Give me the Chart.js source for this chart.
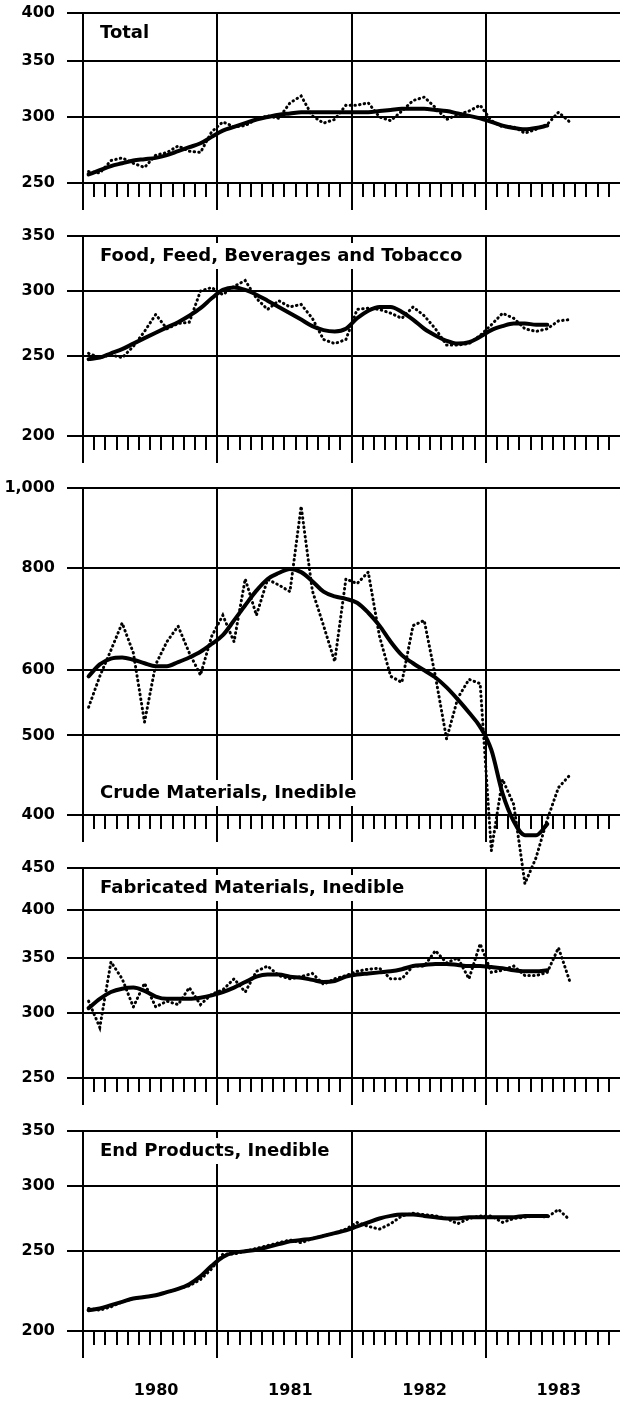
<!DOCTYPE html>
<html><head><meta charset="utf-8">
<script src="https://cdn.jsdelivr.net/npm/chart.js@4.4.0/dist/chart.umd.min.js"></script>
<style>
html,body{margin:0;padding:0;background:#fff;}
#wrap{position:relative;width:623px;height:1403px;overflow:hidden;background:#fff;}
canvas{position:absolute;left:0;}
</style></head><body><div id="wrap"></div>
<script>
// ---- data (monthly, Jan 1980 onward) ----
const yearLabels = ['1980', '1981', '1982', '1983'];
const panelTitles = ['Total', 'Food, Feed, Beverages and Tobacco', 'Crude Materials, Inedible', 'Fabricated Materials, Inedible', 'End Products, Inedible'];

const totalTicks = [250, 300, 350, 400];
const totalActual = [258,257,266,268,264,261,270,272,277,273,272,288,296,292,293,298,301,299,312,318,301,295,298,310,310,312,300,297,305,314,317,308,298,302,305,310,297,292,292,287,290,294,304,296];
const totalTrend  = [256,259,262,264,266,267,268,270,273,276,279,284,289,292,295,298,300,302,303,304,304,304,304,304,304,304,305,306,307,307,307,306,305,303,301,299,296,293,291,290,291,293];

const foodTicks = [200, 250, 300, 350];
const foodActual = [252,249,251,249,257,268,281,270,274,275,300,303,297,304,309,294,285,292,287,289,278,262,259,262,285,286,285,282,278,287,280,270,258,258,259,265,273,282,278,270,268,270,276,277];
const foodTrend  = [248,249,252,255,259,263,267,271,275,280,286,294,301,303,301,297,292,287,282,277,272,269,268,270,278,284,287,287,283,277,270,265,261,259,260,264,269,272,274,274,273,273];

const crudeTicks = [400, 500, 600, 800, 1000];
const crudeActual = [541,590,635,685,630,519,610,650,679,630,592,660,700,650,775,700,774,762,748,950,750,680,615,775,765,790,660,590,580,680,690,590,495,555,585,578,362,442,412,330,355,395,432,447];
const crudeTrend  = [590,610,620,622,618,612,607,607,614,622,632,646,662,690,720,750,775,788,797,790,770,748,738,733,725,705,680,650,626,612,600,588,572,553,533,512,480,425,393,378,378,390];

const fabTicks = [250, 300, 350, 400, 450];
const fabActual = [310,288,346,330,305,326,305,310,307,322,307,316,320,330,318,337,342,333,330,332,335,325,330,333,337,339,340,330,330,342,342,357,345,350,330,364,336,338,342,333,333,336,360,328];
const fabTrend  = [304,312,318,321,322,319,314,312,312,312,313,315,318,322,327,332,334,334,332,331,329,327,328,332,334,335,336,337,339,342,343,344,344,343,342,342,341,340,338,337,337,338];

const endTicks = [200, 250, 300, 350];
const endActual = [213,212,214,217,219,220,221,223,225,227,231,238,248,248,250,252,254,256,258,256,259,261,263,266,271,268,266,270,276,278,277,276,274,270,274,276,276,271,274,275,276,275,281,273];
const endTrend  = [212,213,215,217,219,220,221,223,225,228,233,240,246,249,250,251,253,255,257,258,259,261,263,265,268,271,274,276,277,277,276,275,274,274,275,275,275,275,275,276,276,276];

// ---- layout ----
const FONT = '"DejaVu Sans", sans-serif';
const PAD_TOP = 13;
const panels = [
  {title: panelTitles[0], ticks: totalTicks, actual: totalActual, trend: totalTrend, top: 13, h: 170, extra: 40, titleBottom: false, years: false},
  {title: panelTitles[1], ticks: foodTicks, actual: foodActual, trend: foodTrend, top: 236, h: 200, extra: 40, titleBottom: false, years: false},
  {title: panelTitles[2], ticks: crudeTicks, actual: crudeActual, trend: crudeTrend, top: 488, h: 327, extra: 100, titleBottom: true, years: false},
  {title: panelTitles[3], ticks: fabTicks, actual: fabActual, trend: fabTrend, top: 868, h: 210, extra: 40, titleBottom: false, years: false},
  {title: panelTitles[4], ticks: endTicks, actual: endActual, trend: endTrend, top: 1131, h: 200, extra: 72, titleBottom: false, years: true}
];

const decor = {
  id: 'decor',
  beforeDatasetsDraw(chart, args, opts) {
    const ctx = chart.ctx, a = chart.chartArea;
    ctx.save();
    ctx.font = 'bold 18px ' + FONT;
    const w = ctx.measureText(opts.title).width;
    const x0 = a.left + 17;
    const cy = opts.titleBottom ? a.bottom - 22 : a.top + 20;
    ctx.fillStyle = '#fff';
    ctx.fillRect(x0 - 5, cy - 13, w + 10, 26);
    ctx.fillStyle = '#000';
    ctx.textBaseline = 'middle';
    ctx.textAlign = 'left';
    ctx.fillText(opts.title, x0, cy);
    ctx.restore();
  },
  afterDraw(chart) {
    const ctx = chart.ctx, a = chart.chartArea, xs = chart.scales.x;
    ctx.save();
    ctx.strokeStyle = '#000';
    ctx.lineWidth = 2;
    for (let v = 0; v < 48; v += 12) {
      const px = Math.round(xs.getPixelForValue(v));
      ctx.beginPath();
      ctx.moveTo(px, a.bottom);
      ctx.lineTo(px, a.bottom + 27);
      ctx.stroke();
    }
    ctx.restore();
  }
};

const wrap = document.getElementById('wrap');
panels.forEach(p => {
  const H = PAD_TOP + p.h + p.extra;
  const cv = document.createElement('canvas');
  cv.width = 623; cv.height = H;
  cv.style.width = '623px'; cv.style.height = H + 'px';
  cv.style.top = (p.top - PAD_TOP) + 'px';
  wrap.appendChild(cv);
  new Chart(cv, {
    type: 'line',
    data: {
      datasets: [
        {data: p.actual.map((v, i) => ({x: i + 0.5, y: v})), borderColor: '#000', borderWidth: 3,
         borderDash: [0.5, 4.2], borderCapStyle: 'round', pointRadius: 0, tension: 0, clip: false},
        {data: p.trend.map((v, i) => ({x: i + 0.5, y: v})), borderColor: '#000', borderWidth: 4,
         pointRadius: 0, cubicInterpolationMode: 'monotone', borderCapStyle: 'round', clip: false}
      ]
    },
    options: {
      responsive: false, animation: false, devicePixelRatio: 1,
      layout: {padding: {top: PAD_TOP, right: 3, left: 0, bottom: 0}},
      plugins: {legend: {display: false}, tooltip: {enabled: false}, title: {display: false},
        decor: {title: p.title, titleBottom: p.titleBottom}},
      scales: {
        x: {
          type: 'linear', min: 0, max: 48,
          afterFit: s => { s.height = p.extra; s.paddingLeft = 0; s.paddingRight = 0; },
          border: {display: false},
          ticks: {stepSize: 1, autoSkip: false, maxRotation: 0, minRotation: 0, display: p.years,
            padding: 36, labelOffset: 6, color: '#000', font: {family: FONT, weight: 'bold', size: 16},
            callback: v => (v % 12 === 6) ? yearLabels[(v - 6) / 12] : ''},
          grid: {
            color: c => (c.tick && c.tick.value % 12 === 0 && c.tick.value < 48) ? '#000' : 'rgba(0,0,0,0)',
            lineWidth: 2,
            tickColor: c => (c.tick && c.tick.value < 48) ? '#000' : 'rgba(0,0,0,0)',
            tickWidth: 2, tickLength: 14, drawTicks: true
          }
        },
        y: {
          type: 'logarithmic', min: p.ticks[0], max: p.ticks[p.ticks.length - 1],
          afterFit: s => { s.width = 83; s.paddingTop = 0; s.paddingBottom = 0; },
          afterBuildTicks: s => { s.ticks = p.ticks.map(v => ({value: v})); },
          border: {display: false},
          ticks: {padding: 12, color: '#000', font: {family: FONT, weight: 'bold', size: 16},
            callback: v => Number(v).toLocaleString('en-US')},
          grid: {color: '#000', lineWidth: 2, tickLength: 16, tickColor: '#000', tickWidth: 2}
        }
      }
    },
    plugins: [decor]
  });
});
</script>
</body></html>
